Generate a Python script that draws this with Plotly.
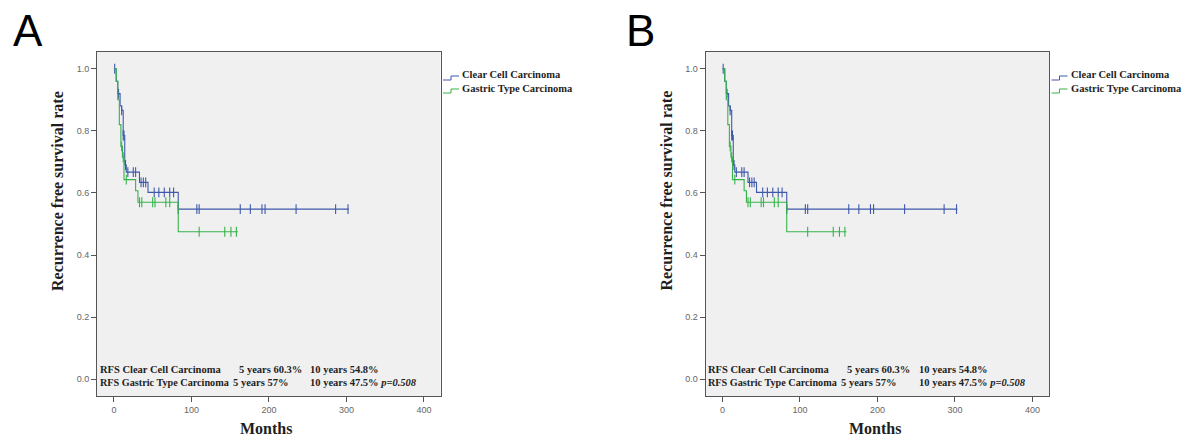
import numpy as np
import plotly.graph_objects as go

# ---------------- data ----------------
panel_labels = ["A", "B"]
series_names = ["Clear Cell Carcinoma", "Gastric Type Carcinoma"]

cc_time = [0, 3, 5, 8, 10, 12, 14, 16, 33, 44, 83, 303]
cc_surv = [1.0, 0.96, 0.92, 0.88, 0.866, 0.785, 0.69, 0.667, 0.634, 0.602, 0.548, 0.548]
cc_censor = [1, 6, 10, 12, 13, 15, 18, 25, 28, 35, 38, 41, 52, 58, 65, 72, 77,
             83, 107, 110, 163, 176, 191, 195, 235, 286, 302]

gt_time = [0, 3, 5, 7, 9, 11, 13, 28, 31, 83, 160]
gt_surv = [1.0, 0.96, 0.90, 0.82, 0.75, 0.715, 0.643, 0.607, 0.57, 0.475, 0.475]
gt_censor = [10, 12, 16, 33, 36, 50, 53, 67, 72, 110, 143, 151, 158]

x_ticks = [0, 100, 200, 300, 400]
y_ticks = [0.0, 0.2, 0.4, 0.6, 0.8, 1.0]
y_ticklabels = ["0.0", "0.2", "0.4", "0.6", "0.8", "1.0"]

stats_line1 = ["RFS Clear Cell Carcinoma", "5 years 60.3%", "10 years 54.8%"]
stats_line2 = ["RFS Gastric Type Carcinoma", "5 years 57%", "10 years 47.5% <i>p=0.508</i>"]

x_title = "Months"
y_title = "Recurrence free survival rate"

# ---------------- styling ----------------
FW, FH = 1188, 439
colors = ["#3E58AC", "#35B34A"]
serif = "Liberation Serif, Times New Roman, serif"
sans = "Liberation Sans, Arial, sans-serif"
txt_col = "#1e1e1e"

def px(x):
    return x / FW

def py(y):
    return 1 - y / FH

def step_value(times, survs, t):
    idx = np.searchsorted(np.array(times), np.array(t), side="right") - 1
    return list(np.array(survs)[idx])

fig = go.Figure()
panel_offset = 608.5
box_left, box_right, box_top, box_bottom = 97.0, 440.5, 52.0, 396.0

annotations = []
shapes = []
series = [(cc_time, cc_surv, cc_censor), (gt_time, gt_surv, gt_censor)]

for p, lab in enumerate(panel_labels):
    off = p * panel_offset
    xa = "x" if p == 0 else "x2"
    ya = "y" if p == 0 else "y2"
    for s, (tt, ss, cens) in enumerate(series):
        fig.add_trace(go.Scatter(
            x=tt, y=ss, mode="lines", line=dict(color=colors[s], width=1.1, shape="hv"),
            xaxis=xa, yaxis=ya, showlegend=False, hoverinfo="skip"))
        fig.add_trace(go.Scatter(
            x=cens, y=step_value(tt, ss, cens), mode="markers",
            marker=dict(symbol="line-ns-open", size=7, color=colors[s],
                        line=dict(color=colors[s], width=1.1)),
            xaxis=xa, yaxis=ya, showlegend=False, hoverinfo="skip"))

    axis_common = dict(showgrid=False, zeroline=False, showline=True, mirror=True,
                       linecolor="#555555", linewidth=1, ticks="outside", ticklen=5,
                       tickcolor="#555555", tickfont=dict(family=sans, size=9, color="#666666"))
    xd = [px(box_left + off), px(box_right + off)]
    yd = [py(box_bottom), py(box_top)]
    xkey = "xaxis" if p == 0 else "xaxis2"
    ykey = "yaxis" if p == 0 else "yaxis2"
    fig.update_layout(**{
        xkey: dict(domain=xd, range=[-21.8, 421.3], tickvals=x_ticks, anchor=ya, **axis_common),
        ykey: dict(domain=yd, range=[-0.054, 1.054], tickvals=y_ticks, ticktext=y_ticklabels,
                   anchor=xa, **axis_common),
    })

    # panel letter
    annotations.append(dict(x=px(28 + off + (0 if p == 0 else 4)), y=py(30), xref="paper", yref="paper",
                            text=lab, showarrow=False, xanchor="center", yanchor="middle",
                            font=dict(family=sans, size=44, color="#000000")))
    # axis titles
    annotations.append(dict(x=px(57 + off), y=py(191), xref="paper", yref="paper", text=f"<b>{y_title}</b>",
                            textangle=-90, showarrow=False, xanchor="center", yanchor="middle",
                            font=dict(family=serif, size=16, color=txt_col)))
    annotations.append(dict(x=px(266 + off), y=py(428), xref="paper", yref="paper", text=f"<b>{x_title}</b>",
                            showarrow=False, xanchor="center", yanchor="middle",
                            font=dict(family=serif, size=16, color=txt_col)))
    # stats text inside the plot
    xs1 = [97.5, 236.5, 308.3]
    xs2 = [97.5, 230.5, 308.3]
    for k, (txt, xx) in enumerate(zip(stats_line1, xs1)):
        annotations.append(dict(x=px(xx + off), y=py(369), xref="paper", yref="paper", text=f"<b>{txt}</b>",
                                showarrow=False, xanchor="left", yanchor="middle",
                                font=dict(family=serif, size=10.5, color=txt_col)))
    for k, (txt, xx) in enumerate(zip(stats_line2, xs2)):
        annotations.append(dict(x=px(xx + off), y=py(382), xref="paper", yref="paper", text=f"<b>{txt}</b>",
                                showarrow=False, xanchor="left", yanchor="middle",
                                font=dict(family=serif, size=10.2 if k == 0 else 10.5, color=txt_col)))
    # legend (manual, with step glyphs)
    for s, name in enumerate(series_names):
        yc = 75 + s * 13
        annotations.append(dict(x=px(460 + off), y=py(yc), xref="paper", yref="paper", text=f"<b>{name}</b>",
                                showarrow=False, xanchor="left", yanchor="middle",
                                font=dict(family=serif, size=10.5, color=txt_col)))
        x0, x1, x2 = px(443 + off), px(451 + off), px(459 + off)
        ylo, yhi = py(yc + 5), py(yc + 1)
        shapes.append(dict(type="path", xref="paper", yref="paper",
                           path=f"M {x0},{ylo} H {x1} V {yhi} H {x2}",
                           line=dict(color=colors[s], width=1)))

fig.update_layout(
    width=FW, height=FH, margin=dict(l=0, r=0, t=0, b=0),
    paper_bgcolor="white", plot_bgcolor="#F0F0F0",
    annotations=annotations, shapes=shapes, showlegend=False,
)
fig.write_html("out.html", config={"displayModeBar": False},
               post_script="document.body.style.margin='0';")
